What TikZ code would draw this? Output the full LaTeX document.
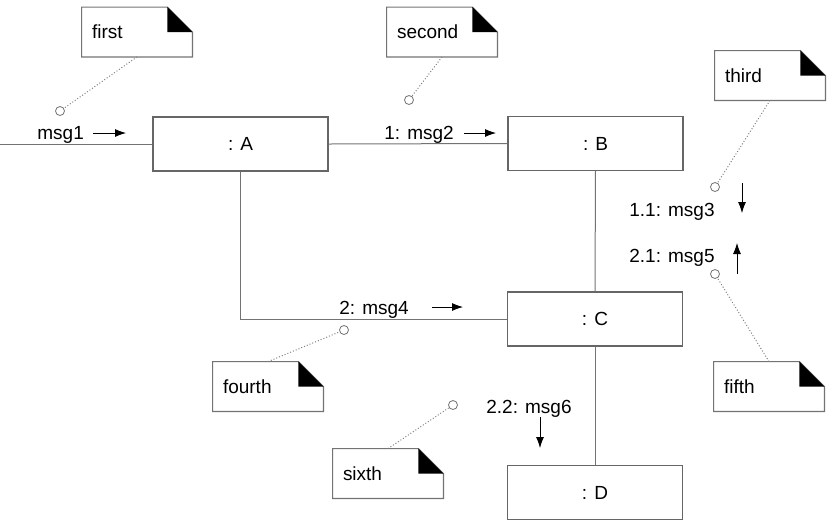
\documentclass[tikz,border=0pt]{standalone}
\usepackage{fontspec}
\setmainfont{Liberation Sans}
\usepackage{tikz}
\usetikzlibrary{arrows.meta, positioning}
\tikzset{
  obj/.style={draw=black!60, line width=0.6pt, minimum width=87.5pt, minimum height=27pt, inner sep=0pt},
  note/.style={minimum width=55pt, minimum height=24.5pt, text width=45pt, inner xsep=5pt, align=left},
  notebox/.style={draw=black!55, line width=0.6pt},
  dot/.style={circle, draw=black!55, fill=white, inner sep=0pt, minimum size=4.5pt},
  anno/.style={black!50, densely dotted, line width=0.5pt},
  link/.style={draw=black!55, line width=0.5pt},
  msg/.style={-{Latex[length=5.5pt,width=4pt]}, line width=0.4pt},
  lbl/.style={anchor=base west, inner sep=0pt}
}
\newcommand{\fold}{12.5pt}

\begin{document}
\begin{tikzpicture}[x=0.5pt, y=-0.5pt, font=\fontsize{9.5}{11}\selectfont]
    \useasboundingbox (0,0) rectangle (832,527);

    % Objects
    \node[obj] (A) at (240.5,144) {: A};
    \node[obj] (B) at (595.5,143.5) {: B};
    \node[obj] (C) at (595,319) {: C};
    \node[obj] (D) at (595,492.5) {: D};
    \coordinate (in) at (0,144);

    % Links
    \draw[link] (in) -- (A.west);
    \draw[link] (A.east) -- (B.west);
    \draw[link] (A.south) |- (C.west);
    \draw[link] (B.south) -- (C.north);
    \draw[link] (C.south) -- (D.north);

    % Messages
    \node[lbl] (m1) at (37,139.5) {msg1};
    \draw[msg] (93,133) -- (126,133);
    \node[lbl] (m2) at (384,139.5) {1: msg2};
    \draw[msg] (464,133) -- (496,133);
    \node[lbl] (m3) at (629,216.5) {1.1: msg3};
    \draw[msg] (742,183) -- (742,213);
    \node[lbl] (m5) at (629,262.5) {2.1: msg5};
    \draw[msg] (737,274) -- (737,243);
    \node[lbl] (m4) at (339,314) {2: msg4};
    \draw[msg] (432,307) -- (463,307);
    \node[lbl] (m6) at (486,413.5) {2.2: msg6};
    \draw[msg] (540,417) -- (540,448);

    % Notes with folded corner
    \foreach \nm/\px/\py in {first/137/32, second/442/32, third/770/75.5,
                             fourth/268/386.5, fifth/769/386.5, sixth/388/473.5} {
      \node[note] (\nm) at (\px,\py) {\nm};
      \draw[notebox] (\nm.north west) -- ([xshift=-\fold]\nm.north east)
        -- ([yshift=-\fold]\nm.north east) -- (\nm.south east) -- (\nm.south west) -- cycle;
      \fill ([xshift=-\fold]\nm.north east) -- ([xshift=-\fold,yshift=-\fold]\nm.north east)
        -- ([yshift=-\fold]\nm.north east) -- cycle;
    }

    % Anchors of the notes
    \node[dot] (d1) at (60,111) {};
    \node[dot] (d2) at (409,100) {};
    \node[dot] (d3) at (715,187) {};
    \node[dot] (d4) at (344,330) {};
    \node[dot] (d5) at (715,274) {};
    \node[dot] (d6) at (453,405) {};
    \draw[anno] (first.south) -- (d1);
    \draw[anno] (second.south) -- (d2);
    \draw[anno] (third.south) -- (d3);
    \draw[anno] (fourth.north) -- (d4);
    \draw[anno] (fifth.north) -- (d5);
    \draw[anno] (sixth.north) -- (d6);
\end{tikzpicture}
\end{document}
